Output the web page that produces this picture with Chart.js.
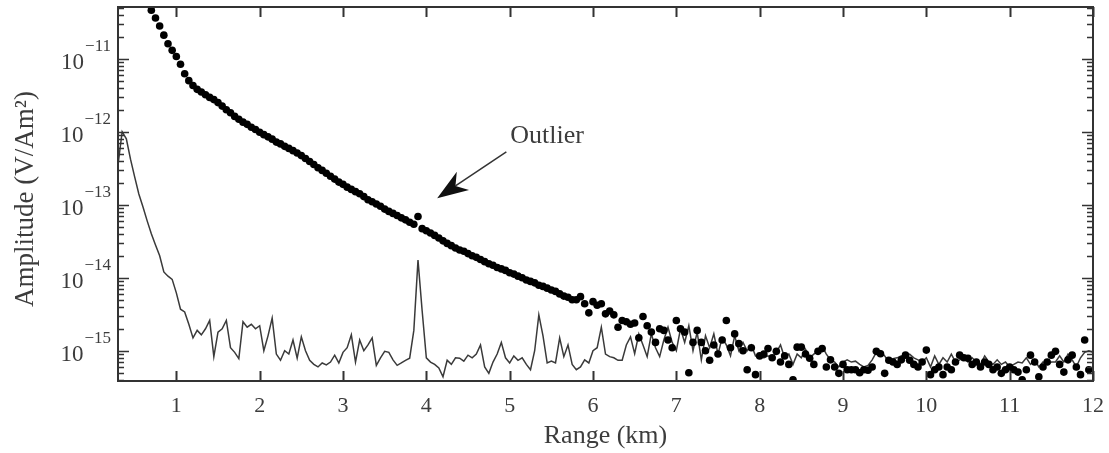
<!DOCTYPE html>
<html>
<head>
<meta charset="utf-8">
<title>Amplitude vs range</title>
<script src="https://cdn.jsdelivr.net/npm/chart.js@4.4.1/dist/chart.umd.min.js"></script>
<style>
  html, body { margin: 0; padding: 0; background: #ffffff; }
  #wrap { width: 1109px; height: 453px; }
</style>
</head>
<body>
<div id="wrap"><canvas id="chart" width="1109" height="453"></canvas></div>
<script>
// Range samples (km)
const rangeKm = [
  0.30, 0.35, 0.40, 0.45, 0.50, 0.55, 0.60, 0.65, 0.70, 0.75, 0.80, 0.85, 0.90, 0.95,
  1.00, 1.05, 1.10, 1.15, 1.20, 1.25, 1.30, 1.35, 1.40, 1.45, 1.50, 1.55, 1.60, 1.65, 1.70, 1.75, 1.80, 1.85, 1.90, 1.95,
  2.00, 2.05, 2.10, 2.15, 2.20, 2.25, 2.30, 2.35, 2.40, 2.45, 2.50, 2.55, 2.60, 2.65, 2.70, 2.75, 2.80, 2.85, 2.90, 2.95,
  3.00, 3.05, 3.10, 3.15, 3.20, 3.25, 3.30, 3.35, 3.40, 3.45, 3.50, 3.55, 3.60, 3.65, 3.70, 3.75, 3.80, 3.85, 3.90, 3.95,
  4.00, 4.05, 4.10, 4.15, 4.20, 4.25, 4.30, 4.35, 4.40, 4.45, 4.50, 4.55, 4.60, 4.65, 4.70, 4.75, 4.80, 4.85, 4.90, 4.95,
  5.00, 5.05, 5.10, 5.15, 5.20, 5.25, 5.30, 5.35, 5.40, 5.45, 5.50, 5.55, 5.60, 5.65, 5.70, 5.75, 5.80, 5.85, 5.90, 5.95,
  6.00, 6.05, 6.10, 6.15, 6.20, 6.25, 6.30, 6.35, 6.40, 6.45, 6.50, 6.55, 6.60, 6.65, 6.70, 6.75, 6.80, 6.85, 6.90, 6.95,
  7.00, 7.05, 7.10, 7.15, 7.20, 7.25, 7.30, 7.35, 7.40, 7.45, 7.50, 7.55, 7.60, 7.65, 7.70, 7.75, 7.80, 7.85, 7.90, 7.95,
  8.00, 8.05, 8.10, 8.15, 8.20, 8.25, 8.30, 8.35, 8.40, 8.45, 8.50, 8.55, 8.60, 8.65, 8.70, 8.75, 8.80, 8.85, 8.90, 8.95,
  9.00, 9.05, 9.10, 9.15, 9.20, 9.25, 9.30, 9.35, 9.40, 9.45, 9.50, 9.55, 9.60, 9.65, 9.70, 9.75, 9.80, 9.85, 9.90, 9.95,
  10.00, 10.05, 10.10, 10.15, 10.20, 10.25, 10.30, 10.35, 10.40, 10.45, 10.50, 10.55, 10.60, 10.65, 10.70, 10.75, 10.80, 10.85, 10.90, 10.95,
  11.00, 11.05, 11.10, 11.15, 11.20, 11.25, 11.30, 11.35, 11.40, 11.45, 11.50, 11.55, 11.60, 11.65, 11.70, 11.75, 11.80, 11.85, 11.90, 11.95,
  12.00
];

// Background noise amplitude (V/Am^2), solid line
const noiseAmp = [
  3.5e-13, 1.0e-12, 8.0e-13, 4.2e-13, 2.4e-13, 1.4e-13, 9.3e-14, 6.0e-14, 4.0e-14, 2.8e-14, 2.0e-14, 1.2e-14, 1.05e-14, 9.5e-15,
  6.2e-15, 3.7e-15, 3.4e-15, 2.3e-15, 1.5e-15, 1.9e-15, 1.65e-15, 2.0e-15, 2.6e-15, 8.3e-16, 1.8e-15, 2.0e-15, 2.6e-15, 1.1e-15, 9.5e-16, 7.8e-16, 2.5e-15, 2.1e-15, 2.3e-15, 2.0e-15,
  2.2e-15, 1.0e-15, 1.6e-15, 2.8e-15, 9.0e-16, 7.4e-16, 1.0e-15, 9.0e-16, 1.4e-15, 7.9e-16, 1.55e-15, 1.0e-15, 7.4e-16, 6.5e-16, 6.0e-16, 6.8e-16, 6.4e-16, 7.0e-16, 8.7e-16, 6.8e-16,
  9.5e-16, 1.1e-15, 1.65e-15, 7.0e-16, 1.4e-15, 1.0e-15, 1.2e-15, 1.5e-15, 6.3e-16, 8.0e-16, 9.8e-16, 9.5e-16, 7.5e-16, 6.3e-16, 6.8e-16, 7.4e-16, 7.9e-16, 1.9e-15, 1.74e-14, 3.5e-15,
  8.0e-16, 7.0e-16, 6.5e-16, 5.8e-16, 4.4e-16, 7.4e-16, 6.5e-16, 8.0e-16, 7.9e-16, 7.2e-16, 8.7e-16, 8.0e-16, 9.0e-16, 1.2e-15, 6.0e-16, 4.9e-16, 7.0e-16, 9.0e-16, 1.3e-15, 8.0e-16,
  6.8e-16, 8.5e-16, 7.4e-16, 8.0e-16, 6.5e-16, 5.5e-16, 1.0e-15, 3.1e-15, 1.6e-15, 6.8e-16, 7.2e-16, 6.8e-16, 1.5e-15, 8.3e-16, 1.2e-15, 6.5e-16, 5.5e-16, 6.0e-16, 7.5e-16, 6.8e-16,
  1.0e-15, 1.1e-15, 2.1e-15, 9.0e-16, 8.3e-16, 8.0e-16, 7.4e-16, 7.4e-16, 1.2e-15, 1.55e-15, 9.1e-16, 1.7e-15, 1.2e-15, 8.3e-16, 1.7e-15, 1.1e-15, 8.3e-16, 1.4e-15, 2.1e-15, 1.3e-15,
  1.0e-15, 2.0e-15, 1.3e-15, 2.2e-15, 1.0e-15, 1.8e-15, 7.5e-16, 1.6e-15, 1.1e-15, 1.7e-15, 9.0e-16, 1.5e-15, 1.2e-15, 8.5e-16, 1.6e-15, 1.0e-15, 1.3e-15, 1.0e-15, 1.2e-15, 8.5e-16,
  9.0e-16, 8.0e-16, 8.5e-16, 8.0e-16, 9.5e-16, 1.2e-15, 8.0e-16, 9.0e-16, 6.5e-16, 9.0e-16, 8.0e-16, 1.05e-15, 8.0e-16, 9.0e-16, 1.0e-15, 1.15e-15, 9.0e-16, 7.5e-16, 7.0e-16, 6.0e-16,
  7.0e-16, 7.5e-16, 7.0e-16, 7.2e-16, 6.5e-16, 6.0e-16, 6.3e-16, 7.5e-16, 9.5e-16, 1.0e-15, 8.5e-16, 7.0e-16, 7.8e-16, 8.0e-16, 8.5e-16, 8.3e-16, 9.0e-16, 8.0e-16, 7.5e-16, 7.0e-16,
  8.0e-16, 6.0e-16, 8.5e-16, 6.5e-16, 8.0e-16, 7.0e-16, 9.0e-16, 7.0e-16, 7.5e-16, 8.5e-16, 7.0e-16, 8.0e-16, 7.0e-16, 6.5e-16, 8.5e-16, 7.0e-16, 6.5e-16, 7.5e-16, 6.5e-16, 7.0e-16,
  6.0e-16, 6.5e-16, 7.0e-16, 6.8e-16, 8.0e-16, 6.5e-16, 7.5e-16, 6.0e-16, 7.0e-16, 6.5e-16, 7.0e-16, 7.0e-16, 8.5e-16, 7.0e-16, 9.0e-16, 7.5e-16, 6.0e-16, 8.0e-16, 9.5e-16, 1.0e-15,
  9.5e-16
];

// Measured response amplitude (V/Am^2), dots
const signalAmp = [
  null, null, null, null, null, null, null, null, 4.6e-11, 3.6e-11, 2.8e-11, 2.1e-11, 1.6e-11, 1.3e-11,
  1.07e-11, 8.4e-12, 6.2e-12, 5.0e-12, 4.3e-12, 3.8e-12, 3.5e-12, 3.2e-12, 2.95e-12, 2.75e-12, 2.5e-12, 2.24e-12, 2.0e-12, 1.82e-12, 1.62e-12, 1.48e-12, 1.35e-12, 1.26e-12, 1.15e-12, 1.07e-12,
  9.8e-13, 9.1e-13, 8.5e-13, 7.9e-13, 7.2e-13, 6.8e-13, 6.3e-13, 5.9e-13, 5.5e-13, 5.1e-13, 4.7e-13, 4.3e-13, 3.9e-13, 3.55e-13, 3.2e-13, 2.95e-13, 2.7e-13, 2.45e-13, 2.24e-13, 2.04e-13,
  1.9e-13, 1.74e-13, 1.62e-13, 1.51e-13, 1.41e-13, 1.29e-13, 1.17e-13, 1.1e-13, 1.02e-13, 9.5e-14, 8.7e-14, 8.1e-14, 7.6e-14, 7.1e-14, 6.6e-14, 6.2e-14, 5.75e-14, 5.4e-14, 6.9e-14, 4.7e-14,
  4.4e-14, 4.1e-14, 3.8e-14, 3.5e-14, 3.2e-14, 2.95e-14, 2.75e-14, 2.55e-14, 2.4e-14, 2.3e-14, 2.14e-14, 2.0e-14, 1.9e-14, 1.78e-14, 1.66e-14, 1.55e-14, 1.48e-14, 1.38e-14, 1.32e-14, 1.26e-14,
  1.17e-14, 1.12e-14, 1.05e-14, 1.0e-14, 9.3e-15, 8.9e-15, 8.5e-15, 7.9e-15, 7.6e-15, 7.2e-15, 6.8e-15, 6.5e-15, 6.0e-15, 5.6e-15, 5.4e-15, 5.0e-15, 5.0e-15, 5.5e-15, 4.4e-15, 3.3e-15,
  4.7e-15, 4.2e-15, 4.4e-15, 3.2e-15, 3.5e-15, 3.1e-15, 2.1e-15, 2.6e-15, 2.5e-15, 2.3e-15, 2.4e-15, 1.5e-15, 2.95e-15, 2.2e-15, 1.8e-15, 1.3e-15, 2.0e-15, 1.9e-15, 1.4e-15, 1.1e-15,
  2.6e-15, 2.0e-15, 1.8e-15, 5.0e-16, 1.3e-15, 1.9e-15, 1.3e-15, 1.0e-15, 7.4e-16, 1.2e-15, 9.0e-16, 1.4e-15, 2.6e-15, 1.1e-15, 1.7e-15, 1.25e-15, 1.0e-15, 5.5e-16, 1.1e-15, 4.7e-16,
  8.5e-16, 9.0e-16, 1.07e-15, 8.0e-16, 9.8e-16, 7.0e-16, 8.5e-16, 6.5e-16, 4.0e-16, 1.12e-15, 1.12e-15, 9.0e-16, 7.9e-16, 6.5e-16, 9.8e-16, 1.07e-15, 6.0e-16, 7.5e-16, 6.0e-16, 4.9e-16,
  6.5e-16, 5.5e-16, 5.5e-16, 5.5e-16, 5.0e-16, 5.5e-16, 5.4e-16, 6.0e-16, 9.8e-16, 9.1e-16, 4.9e-16, 7.4e-16, 7.0e-16, 6.5e-16, 7.5e-16, 8.7e-16, 7.4e-16, 6.5e-16, 6.0e-16, 7.0e-16,
  1.02e-15, 4.7e-16, 5.5e-16, 6.0e-16, 4.7e-16, 6.0e-16, 5.5e-16, 7.0e-16, 8.7e-16, 8.0e-16, 7.9e-16, 6.5e-16, 7.0e-16, 6.0e-16, 7.0e-16, 6.5e-16, 5.5e-16, 6.0e-16, 4.9e-16, 5.5e-16,
  6.0e-16, 5.5e-16, 5.1e-16, 4.0e-16, 5.5e-16, 8.7e-16, 7.0e-16, 4.4e-16, 6.0e-16, 7.0e-16, 8.7e-16, 9.8e-16, 6.5e-16, 5.1e-16, 7.5e-16, 8.7e-16, 6.0e-16, 4.7e-16, 1.4e-15, 5.5e-16,
  null
];

// Axis ticks
const xTickValues = [1, 2, 3, 4, 5, 6, 7, 8, 9, 10, 11, 12];
const yTickValues = [1e-11, 1e-12, 1e-13, 1e-14, 1e-15];
const yTickExponents = ['\u221211', '\u221212', '\u221213', '\u221214', '\u221215'];

// Axis limits
const xRange = [0.3, 12];
const yRange = [3.85e-16, 5.1e-11];

// Outlier callout, in data units (km, V/Am^2)
const outlierNote = {
  text: 'Outlier',
  label: [5.45, 8.6e-13],
  tail: [4.96, 5.3e-13],
  tip: [4.13, 1.23e-13]
};

const SERIF = '"Liberation Serif", "Times New Roman", Times, serif';
const INK = '#333333';
const TEXT = '#3c3c3c';

function toPoints(ys) {
  const pts = [];
  for (let i = 0; i < rangeKm.length; i++) {
    if (ys[i] !== null && ys[i] !== undefined) pts.push({ x: rangeKm[i], y: ys[i] });
  }
  return pts;
}

// Frame, inward tick marks, tick labels, axis titles and the callout
const framePlugin = {
  id: 'frameAndLabels',
  afterDraw(chart) {
    const { ctx, chartArea: a, scales } = chart;
    const xs = scales.x, ys = scales.y;
    ctx.save();

    // frame
    ctx.strokeStyle = INK;
    ctx.lineWidth = 2;
    ctx.strokeRect(a.left, a.top, a.right - a.left, a.bottom - a.top);

    // x ticks (bottom and top, pointing inward)
    ctx.lineWidth = 2;
    ctx.beginPath();
    xTickValues.forEach(v => {
      const px = Math.round(xs.getPixelForValue(v)) + 0.5;
      ctx.moveTo(px, a.bottom); ctx.lineTo(px, a.bottom - 10);
      ctx.moveTo(px, a.top); ctx.lineTo(px, a.top + 10);
    });
    ctx.stroke();

    // y ticks: decades long, 2..9 short, on both sides
    ctx.lineWidth = 1.5;
    ctx.beginPath();
    for (let e = -17; e <= -10; e++) {
      for (let m = 1; m <= 9; m++) {
        const v = m * Math.pow(10, e);
        if (v < yRange[0] || v > yRange[1]) continue;
        const py = Math.round(ys.getPixelForValue(v)) + 0.5;
        const len = m === 1 ? 11 : 6;
        ctx.moveTo(a.left, py); ctx.lineTo(a.left + len, py);
        ctx.moveTo(a.right, py); ctx.lineTo(a.right - len, py);
      }
    }
    ctx.stroke();

    // x tick labels
    ctx.fillStyle = TEXT;
    ctx.font = '22px ' + SERIF;
    ctx.textAlign = 'center';
    ctx.textBaseline = 'alphabetic';
    xTickValues.forEach(v => {
      ctx.fillText(String(v), xs.getPixelForValue(v), a.bottom + 31);
    });

    // y tick labels as 10 with a raised exponent
    yTickValues.forEach((v, i) => {
      const py = ys.getPixelForValue(v);
      const right = a.left - 7;
      ctx.font = '17px ' + SERIF;
      const ew = ctx.measureText(yTickExponents[i]).width;
      ctx.textAlign = 'left';
      ctx.fillText(yTickExponents[i], right - ew, py - 8);
      ctx.font = '23px ' + SERIF;
      ctx.textAlign = 'right';
      ctx.fillText('10', right - ew - 1, py + 10);
    });

    // axis titles
    ctx.font = '26px ' + SERIF;
    ctx.textAlign = 'center';
    ctx.fillText('Range (km)', (a.left + a.right) / 2, a.bottom + 62);
    ctx.save();
    ctx.font = '27px ' + SERIF;
    ctx.translate(33, (a.top + a.bottom) / 2 + 5);
    ctx.rotate(-Math.PI / 2);
    ctx.fillText('Amplitude (V/Am\u00B2)', 0, 0);
    ctx.restore();

    // callout
    const lx = xs.getPixelForValue(outlierNote.label[0]);
    const ly = ys.getPixelForValue(outlierNote.label[1]);
    ctx.font = '26px ' + SERIF;
    ctx.textAlign = 'center';
    ctx.textBaseline = 'middle';
    ctx.fillText(outlierNote.text, lx, ly);

    const tx = xs.getPixelForValue(outlierNote.tail[0]);
    const ty = ys.getPixelForValue(outlierNote.tail[1]);
    const hx = xs.getPixelForValue(outlierNote.tip[0]);
    const hy = ys.getPixelForValue(outlierNote.tip[1]);
    const dx = hx - tx, dy = hy - ty;
    const len = Math.hypot(dx, dy);
    const ux = dx / len, uy = dy / len;
    const nx = -uy, ny = ux;
    const headLen = 31, headHalf = 11, notch = 22;
    ctx.strokeStyle = INK;
    ctx.lineWidth = 1.5;
    ctx.beginPath();
    ctx.moveTo(tx, ty);
    ctx.lineTo(hx - ux * notch, hy - uy * notch);
    ctx.stroke();
    ctx.fillStyle = '#111111';
    ctx.beginPath();
    ctx.moveTo(hx, hy);
    ctx.lineTo(hx - ux * headLen + nx * headHalf, hy - uy * headLen + ny * headHalf);
    ctx.lineTo(hx - ux * notch, hy - uy * notch);
    ctx.lineTo(hx - ux * headLen - nx * headHalf, hy - uy * headLen - ny * headHalf);
    ctx.closePath();
    ctx.fill();

    ctx.restore();
  }
};

new Chart(document.getElementById('chart'), {
  type: 'scatter',
  data: {
    datasets: [
      {
        label: 'Response',
        data: toPoints(signalAmp),
        showLine: false,
        pointStyle: 'circle',
        pointRadius: 3.8,
        pointBackgroundColor: '#000000',
        pointBorderWidth: 0,
        order: 0
      },
      {
        label: 'Noise',
        data: toPoints(noiseAmp),
        showLine: true,
        borderColor: '#3a3a3a',
        borderWidth: 1.5,
        pointRadius: 0,
        tension: 0,
        order: 1
      }
    ]
  },
  options: {
    responsive: false,
    animation: false,
    devicePixelRatio: 1,
    layout: { padding: { left: 0, top: 7, right: 16, bottom: 0 } },
    plugins: { legend: { display: false }, tooltip: { enabled: false } },
    scales: {
      x: {
        type: 'linear', min: xRange[0], max: xRange[1],
        grid: { display: false }, border: { display: false },
        ticks: { display: false },
        afterFit(s) { s.height = 72; }
      },
      y: {
        type: 'logarithmic', min: yRange[0], max: yRange[1],
        grid: { display: false }, border: { display: false },
        ticks: { display: false },
        afterFit(s) { s.width = 118; }
      }
    }
  },
  plugins: [framePlugin]
});
</script>
</body>
</html>
